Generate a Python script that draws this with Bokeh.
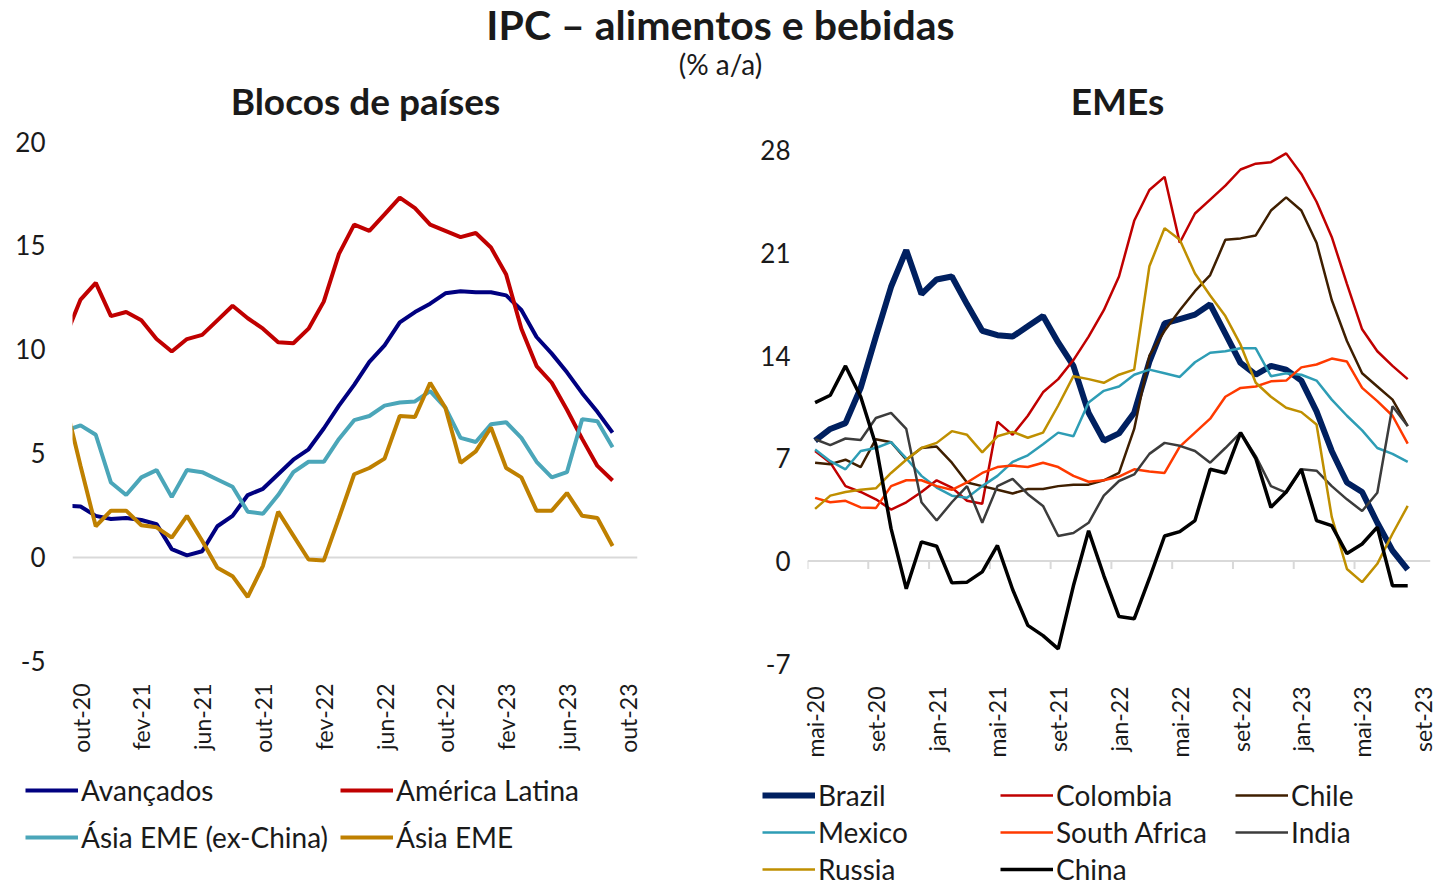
import math
from bokeh.plotting import figure
from bokeh.models import (ColumnDataSource, FixedTicker, Span, Legend, LegendItem, Label)
from bokeh.layouts import column, row
from bokeh.embed import file_html
from bokeh.resources import INLINE

FONT = "Lato"

# ---------------- Left panel data (month index: 0 = out-20) ----------------
left_months = list(range(-1, 36))
left_tick_pos = [0, 4, 8, 12, 16, 20, 24, 28, 32, 36]
left_tick_labels = ["out-20", "fev-21", "jun-21", "out-21", "fev-22",
                    "jun-22", "out-22", "fev-23", "jun-23", "out-23"]
left_y_ticks = [-5, 0, 5, 10, 15, 20]
left_y_labels = ["-5", "0", "5", "10", "15", "20"]

avancados = [2.5, 2.45, 2.0, 1.85, 1.9, 1.8, 1.6, 0.4, 0.1, 0.3, 1.5, 2.0, 3.0,
             3.3, 4.0, 4.7, 5.2, 6.2, 7.3, 8.3, 9.4, 10.2, 11.3, 11.8, 12.2, 12.7,
             12.8, 12.75, 12.75, 12.6, 11.9, 10.6, 9.8, 8.9, 7.9, 7.0, 6.0]
america_latina = [10.6, 12.4, 13.2, 11.6, 11.8, 11.4, 10.5, 9.9, 10.5, 10.7, 11.4,
                  12.1, 11.5, 11.0, 10.35, 10.3, 11.0, 12.3, 14.6, 16.0, 15.7, 16.5,
                  17.3, 16.8, 16.0, 15.7, 15.4, 15.6, 14.9, 13.6, 11.0, 9.2, 8.4,
                  7.1, 5.7, 4.4, 3.7]
asia_ex_china = [6.1, 6.35, 5.9, 3.6, 3.0, 3.85, 4.2, 2.9, 4.2, 4.1, 3.75, 3.4, 2.2,
                 2.1, 3.0, 4.1, 4.6, 4.6, 5.7, 6.6, 6.8, 7.3, 7.45, 7.5, 8.0, 7.2,
                 5.75, 5.55, 6.4, 6.5, 5.75, 4.6, 3.85, 4.1, 6.65, 6.55, 5.3]
asia_eme = [7.4, 4.4, 1.5, 2.25, 2.25, 1.55, 1.45, 0.95, 2.0, 0.8, -0.5, -0.9, -1.9,
            -0.4, 2.2, 1.05, -0.1, -0.15, 1.9, 4.0, 4.3, 4.75, 6.8, 6.75, 8.4, 7.2,
            4.55, 5.1, 6.25, 4.3, 3.85, 2.25, 2.25, 3.1, 2.0, 1.9, 0.55]

# ---------------- Right panel data (month index: 0 = mai-20) ----------------
right_months = list(range(0, 40))
right_tick_pos = [0, 4, 8, 12, 16, 20, 24, 28, 32, 36, 40]
right_tick_labels = ["mai-20", "set-20", "jan-21", "mai-21", "set-21", "jan-22",
                     "mai-22", "set-22", "jan-23", "mai-23", "set-23"]
right_y_ticks = [-7, 0, 7, 14, 21, 28]
right_y_labels = ["-7", "0", "7", "14", "21", "28"]

brazil = [8.2, 9.0, 9.4, 11.8, 15.3, 18.7, 21.2, 18.2, 19.2, 19.4, 17.5, 15.7, 15.4,
          15.3, 16.0, 16.7, 14.9, 13.3, 10.1, 8.2, 8.7, 10.1, 13.6, 16.2, 16.5, 16.8,
          17.5, 15.5, 13.5, 12.7, 13.3, 13.05, 12.3, 10.2, 7.5, 5.35, 4.7, 2.6, 0.7, -0.6]
colombia = [7.5, 6.7, 5.1, 4.7, 4.2, 3.5, 4.0, 4.7, 5.5, 5.0, 4.1, 3.9, 9.5, 8.6, 9.9,
            11.5, 12.4, 13.7, 15.3, 17.1, 19.4, 23.2, 25.3, 26.2, 21.7, 23.7, 24.65,
            25.6, 26.7, 27.1, 27.2, 27.8, 26.4, 24.5, 22.1, 18.9, 15.8, 14.3, 13.3, 12.4]
chile = [6.7, 6.6, 6.9, 6.4, 8.3, 8.1, 6.9, 7.7, 7.8, 6.7, 5.35, 5.1, 4.85, 4.6, 4.9,
         4.9, 5.1, 5.2, 5.2, 5.5, 6.0, 9.0, 14.0, 15.7, 17.1, 18.4, 19.5, 21.9, 22.0,
         22.2, 23.9, 24.8, 23.9, 21.7, 17.8, 15.0, 12.8, 11.9, 11.0, 9.2]
mexico = [7.6, 6.8, 6.25, 7.5, 7.7, 8.1, 7.0, 5.8, 5.0, 4.45, 4.3, 5.1, 5.8, 6.75, 7.2,
          7.95, 8.75, 8.5, 10.8, 11.6, 11.9, 12.7, 13.05, 12.8, 12.55, 13.55, 14.2,
          14.3, 14.5, 14.5, 12.6, 12.8, 12.7, 12.3, 11.0, 9.9, 8.9, 7.7, 7.3, 6.75]
south_africa = [4.3, 4.0, 4.1, 3.65, 3.6, 5.1, 5.5, 5.5, 5.1, 4.85, 5.35, 6.0, 6.4, 6.5,
                6.4, 6.7, 6.4, 5.8, 5.4, 5.5, 5.75, 6.25, 6.1, 6.0, 7.8, 8.75, 9.7,
                11.2, 11.8, 11.9, 12.25, 12.3, 13.2, 13.4, 13.8, 13.6, 11.8, 10.9, 9.9, 8.0]
india = [8.3, 7.9, 8.35, 8.25, 9.75, 10.1, 9.0, 4.0, 2.75, 4.0, 5.1, 2.6, 5.1, 5.6, 4.55,
         3.75, 1.7, 1.9, 2.6, 4.45, 5.45, 5.9, 7.3, 8.05, 7.85, 7.5, 6.7, 7.7, 8.75,
         7.15, 5.1, 4.65, 6.25, 6.15, 5.1, 4.2, 3.4, 4.65, 10.55, 9.2]
russia = [3.55, 4.45, 4.7, 4.85, 4.95, 6.0, 6.9, 7.7, 8.05, 8.85, 8.6, 7.4, 8.5, 8.8,
          8.4, 8.75, 10.6, 12.6, 12.4, 12.15, 12.7, 13.05, 20.1, 22.7, 21.9, 19.6,
          18.1, 16.7, 14.75, 12.15, 11.2, 10.45, 10.15, 9.3, 3.0, -0.55, -1.45, -0.2,
          1.85, 3.75]
china = [10.8, 11.3, 13.3, 11.2, 7.9, 2.2, -1.9, 1.3, 1.0, -1.5, -1.45, -0.75, 1.05,
         -1.95, -4.4, -5.1, -6.0, -1.7, 2.05, -1.0, -3.8, -3.95, -1.2, 1.7, 2.0, 2.75,
         6.25, 6.0, 8.75, 7.0, 3.65, 4.7, 6.25, 2.75, 2.4, 0.5, 1.15, 2.3, -1.7, -1.7]

# small tick marks of the right panel (category boundaries, every 4 months)
right_tick_marks = [p - 0.5 for p in right_tick_pos[:-1]]

left_series = [("Avançados", "av", avancados, "#000080", 4),
               ("América Latina", "al", america_latina, "#C00000", 4),
               ("Ásia EME (ex-China)", "ax", asia_ex_china, "#4BA6B9", 4),
               ("Ásia EME", "ae", asia_eme, "#BF8000", 4)]
right_series = [("Brazil", "br", brazil, "#002060", 6),
                ("Colombia", "co", colombia, "#C00000", 2.5),
                ("Chile", "cl", chile, "#3F1F00", 2.5),
                ("Mexico", "mx", mexico, "#2E9DB5", 2.5),
                ("South Africa", "za", south_africa, "#FF3A00", 2.5),
                ("India", "ind", india, "#3C3C3C", 2.5),
                ("Russia", "ru", russia, "#BF8F00", 2.5),
                ("China", "cn", china, "#000000", 3.5)]

GRID = "#D9D9D9"
TXT = "#1A1A1A"
W = 1437
HH = 124          # header height
FH = 636          # chart figures height
LH = 886 - HH - FH  # legend strip height (126)
LW = 700          # left column width


def style_axes(p, xticks, xlabels, yticks, ylabels, ystandoff, xstandoff):
    p.xaxis.ticker = FixedTicker(ticks=xticks)
    p.xaxis.major_label_overrides = {t: l for t, l in zip(xticks, xlabels)}
    p.xaxis.major_label_orientation = math.pi / 2
    p.xaxis.major_label_standoff = xstandoff
    p.yaxis.ticker = FixedTicker(ticks=yticks)
    p.yaxis.major_label_overrides = {t: l for t, l in zip(yticks, ylabels)}
    p.yaxis.major_label_standoff = ystandoff
    for ax in (p.xaxis, p.yaxis):
        ax.axis_line_color = None
        ax.major_tick_line_color = None
        ax.minor_tick_line_color = None
        ax.major_tick_out = 0
        ax.major_tick_in = 0
        ax.major_label_text_font = FONT
        ax.major_label_text_color = TXT
    p.xaxis.major_label_text_font_size = "23px"
    p.yaxis.major_label_text_font_size = "26px"
    p.xgrid.visible = False
    p.ygrid.visible = False
    p.add_layout(Span(location=0, dimension="width", line_color=GRID,
                      line_width=2, level="underlay"))


def blank_fig(width, height):
    f = figure(width=width, height=height, toolbar_location=None,
               output_backend="svg", x_range=(0, 1), y_range=(0, 1),
               min_border=0, outline_line_color=None)
    f.axis.visible = False
    f.grid.visible = False
    return f


def add_legend(f, src, specs, x, y, spacing):
    items = []
    for name, col, _, color, lw in specs:
        r = f.line("x", col, source=src, line_color=color, line_width=lw,
                   visible=False)
        items.append(LegendItem(label=name, renderers=[r]))
    f.add_layout(Legend(items=items, location=(x, y), orientation="vertical",
                        border_line_color=None, background_fill_alpha=0,
                        padding=0, margin=0, spacing=spacing, glyph_width=53,
                        glyph_height=34, label_height=34, label_standoff=3,
                        label_text_font=FONT, label_text_font_size="28px",
                        label_text_color=TXT))


# ---------------- Header ----------------
header = blank_fig(W, HH)


def head_label(text, x, y_top, size, bold):
    header.add_layout(Label(x=x, y=HH - y_top, x_units="screen", y_units="screen",
                            text=text, text_align="center", text_baseline="middle",
                            text_font=FONT, text_font_size=size,
                            text_font_style="bold" if bold else "normal",
                            text_color=TXT))


head_label("IPC – alimentos e bebidas", 720, 24, "41px", True)
head_label("(% a/a)", 720, 63, "28px", False)
head_label("Blocos de países", 365, 100, "37px", True)
head_label("EMEs", 1117, 100, "37px", True)

# ---------------- Left panel ----------------
p1 = figure(width=LW, height=FH, x_range=(-0.53, 36.64), y_range=(-5.1, 20),
            toolbar_location=None, output_backend="svg",
            min_border_left=72, min_border_right=63, min_border_top=17,
            min_border_bottom=95, outline_line_color=None)
style_axes(p1, left_tick_pos, left_tick_labels, left_y_ticks, left_y_labels, 27, 20)
src_l = ColumnDataSource(dict(x=left_months, **{c: v for _, c, v, _, _ in left_series}))
for _, col, _, color, lw in left_series:
    p1.line("x", col, source=src_l, line_color=color, line_width=lw)

# ---------------- Right panel ----------------
p2 = figure(width=W - LW, height=FH, x_range=(-0.5, 40.5), y_range=(-7, 28.61),
            toolbar_location=None, output_backend="svg",
            min_border_left=107, min_border_right=7, min_border_top=17,
            min_border_bottom=95, outline_line_color=None)
style_axes(p2, right_tick_pos, right_tick_labels, right_y_ticks, right_y_labels, 17, 23)
tm = ColumnDataSource(dict(x=right_tick_marks, y0=[0] * len(right_tick_marks),
                           y1=[-0.55] * len(right_tick_marks)))
p2.segment(x0="x", y0="y0", x1="x", y1="y1", source=tm, line_color=GRID,
           line_width=2, level="underlay")
src_r = ColumnDataSource(dict(x=right_months, **{c: v for _, c, v, _, _ in right_series}))
for _, col, _, color, lw in right_series:
    p2.line("x", col, source=src_r, line_color=color, line_width=lw)

# ---------------- Legend strips ----------------
leg1 = blank_fig(LW, LH)
add_legend(leg1, src_l, [left_series[0], left_series[2]], 25, 32, 13)
add_legend(leg1, src_l, [left_series[1], left_series[3]], 340, 32, 13)

leg2 = blank_fig(W - LW, LH)
add_legend(leg2, src_r, [right_series[0], right_series[3], right_series[6]], 62, 0, 3)
add_legend(leg2, src_r, [right_series[1], right_series[4], right_series[7]], 300, 0, 3)
add_legend(leg2, src_r, [right_series[2], right_series[5]], 535, 37, 3)

layout = column(header, row(p1, p2), row(leg1, leg2))
open("out.html", "w").write(file_html(layout, INLINE))
